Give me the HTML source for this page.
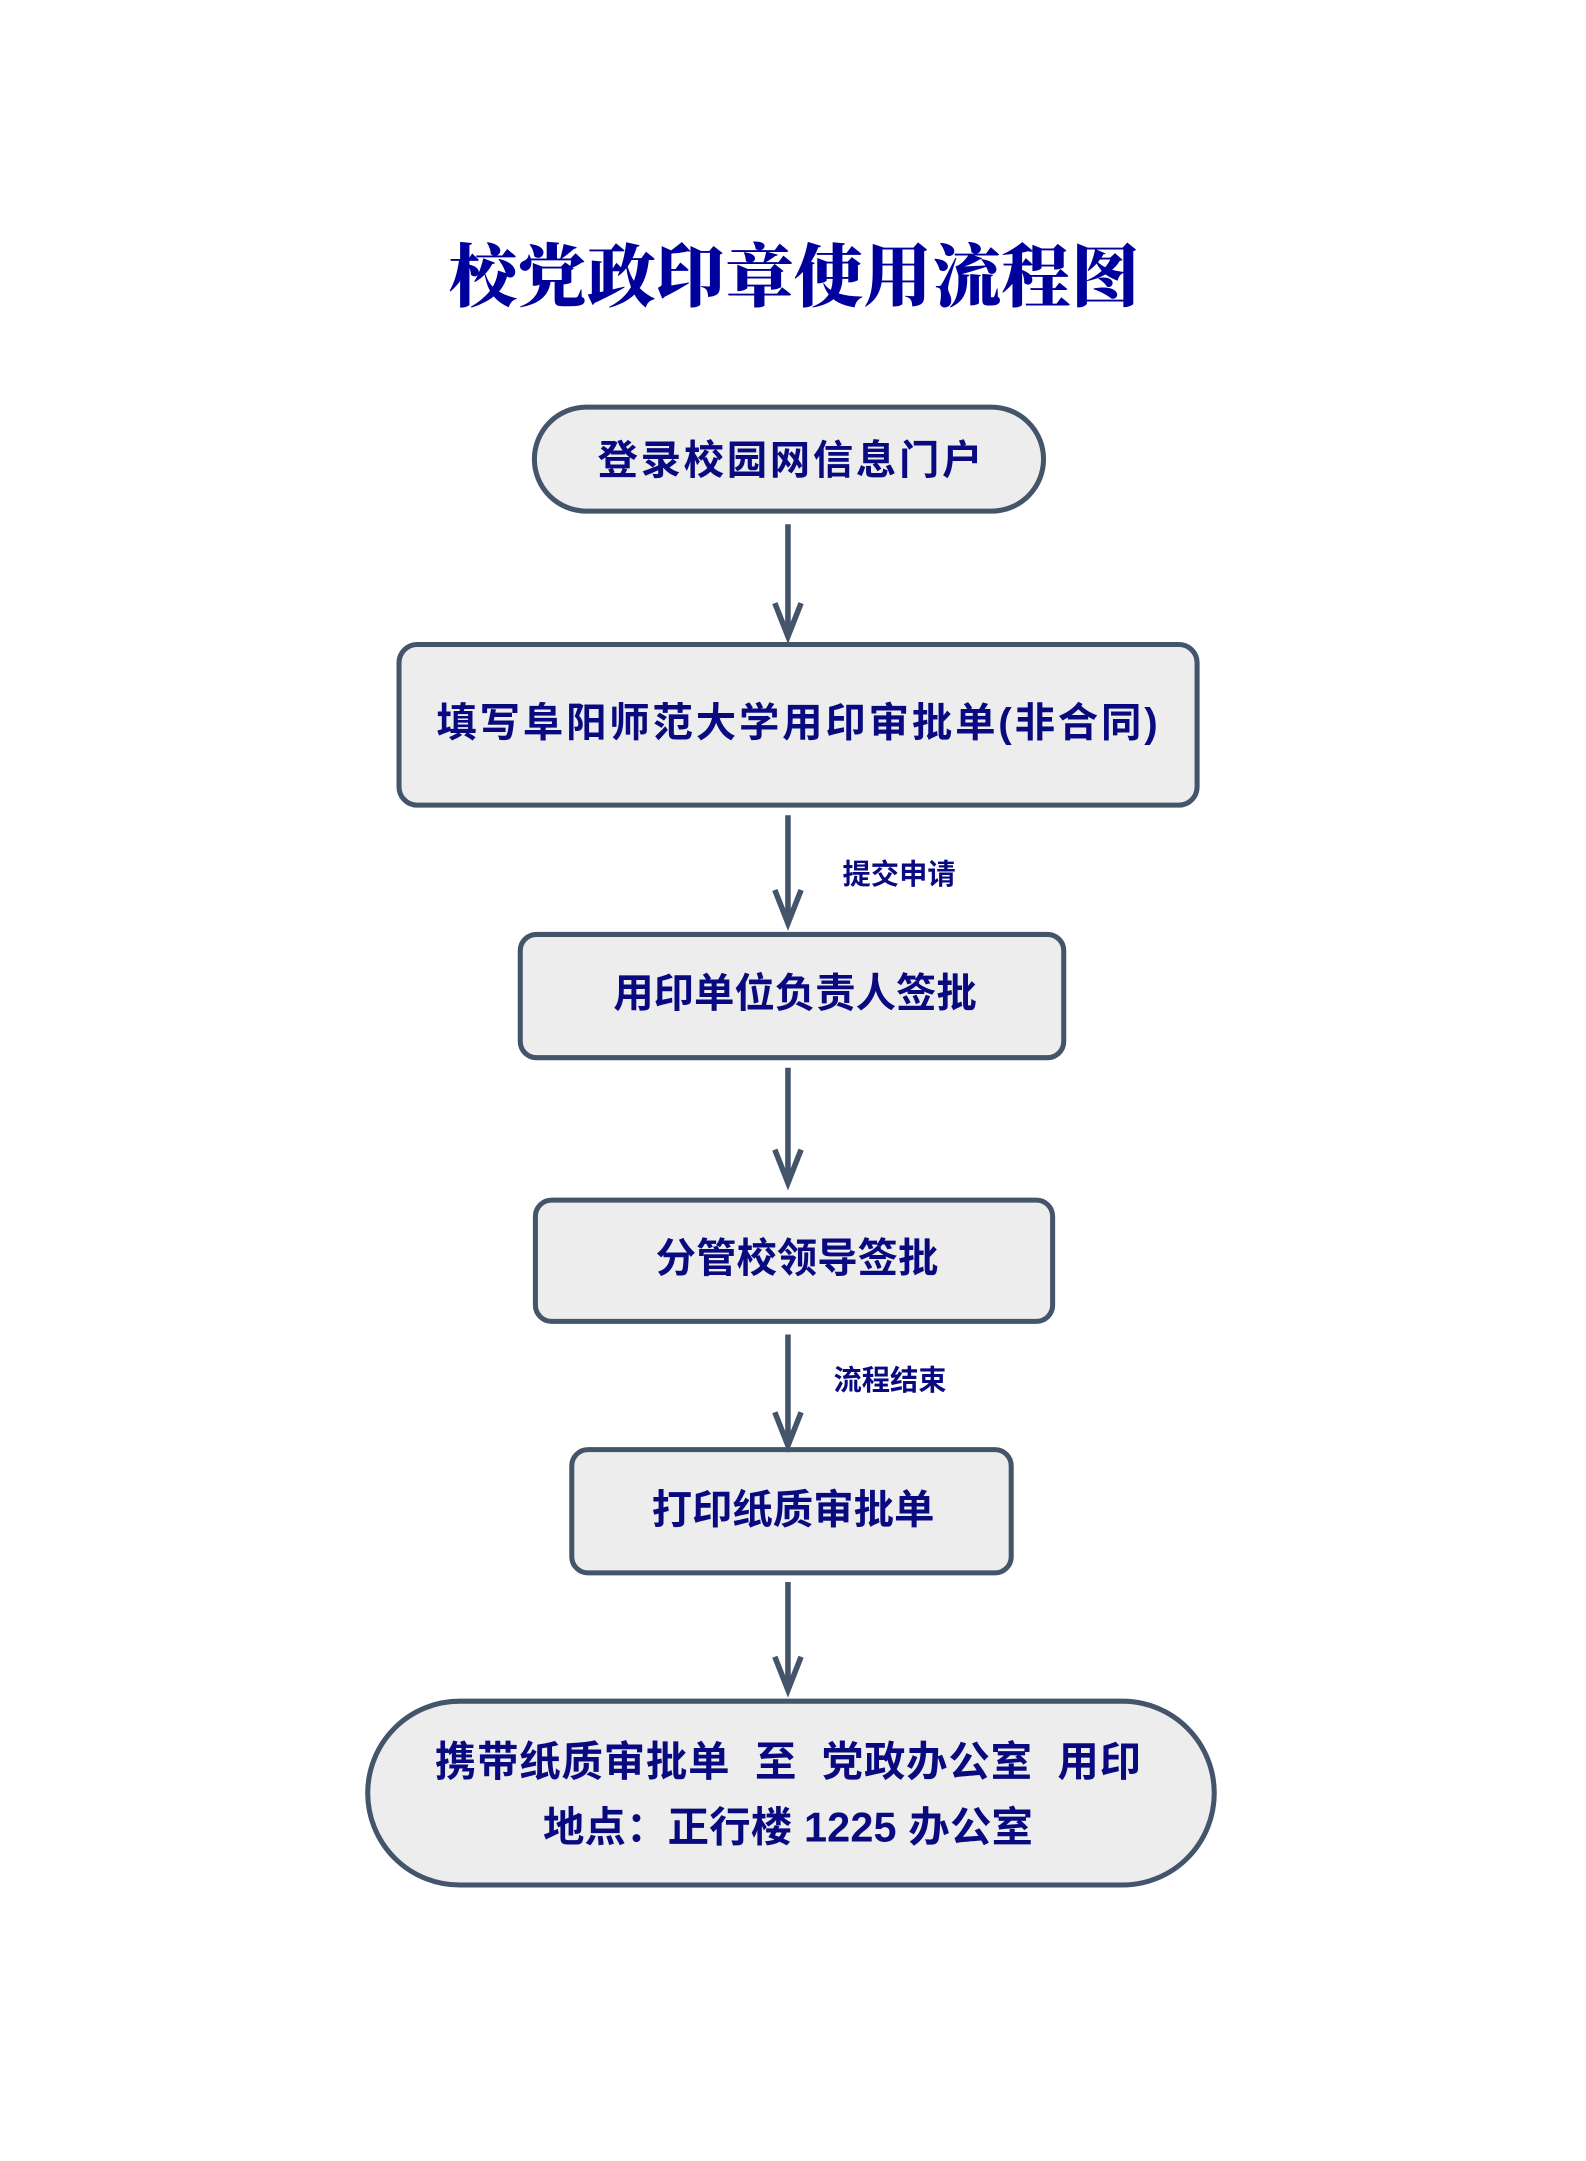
<!DOCTYPE html>
<html><head><meta charset="utf-8"><style>
body{margin:0;background:#fff}
svg{display:block}
.t{font-family:"Liberation Sans","Noto Sans CJK SC",sans-serif;font-weight:bold;fill:#0a0a80;text-anchor:middle}
</style></head><body>
<svg width="1586" height="2161" viewBox="0 0 1586 2161" xmlns="http://www.w3.org/2000/svg">
<g transform="scale(1.0102)">
<text x="786" y="298" style="font-family:'Noto Serif CJK SC',serif;font-weight:900;font-size:68px;fill:#00009c;text-anchor:middle" textLength="684">校党政印章使用流程图</text>
<g fill="#ededed" stroke="#44546a" stroke-width="5">
<rect x="529" y="403" width="504" height="103" rx="51.5"/>
<rect x="395" y="638" width="790" height="159" rx="18"/>
<rect x="515" y="925" width="538" height="122" rx="16"/>
<rect x="530" y="1188" width="512" height="120" rx="16"/>
<rect x="566" y="1435" width="435" height="122" rx="16"/>
<rect x="364" y="1684" width="838" height="182" rx="91"/>
</g>
<g stroke="#44546a" stroke-width="5.5" fill="none" stroke-linejoin="miter" stroke-linecap="butt">
<line x1="780" y1="519" x2="780" y2="628"/><polyline points="767,597 780,630 793,597"/>
<line x1="780" y1="807" x2="780" y2="912"/><polyline points="767,881 780,914 793,881"/>
<line x1="780" y1="1057" x2="780" y2="1169"/><polyline points="767,1138 780,1171 793,1138"/>
<line x1="780" y1="1321" x2="780" y2="1429"/><polyline points="767,1398 780,1431 793,1398"/>
<line x1="780" y1="1566" x2="780" y2="1671"/><polyline points="767,1640 780,1673 793,1640"/>
</g>
<text class="t" x="782" y="469" font-size="40" textLength="381">登录校园网信息门户</text>
<text class="t" x="789" y="729" font-size="40" textLength="714">填写阜阳师范大学用印审批单(非合同)</text>
<text class="t" x="787" y="997" font-size="40">用印单位负责人签批</text>
<text class="t" x="789" y="1259" font-size="40">分管校领导签批</text>
<text class="t" x="785" y="1508" font-size="40">打印纸质审批单</text>
<text class="t" x="780" y="1758" font-size="41" textLength="699" xml:space="preserve">携带纸质审批单  至  党政办公室  用印</text>
<text class="t" x="780" y="1823" font-size="41" textLength="485">地点：正行楼 1225 办公室</text>
<text class="t" x="890" y="875" font-size="28">提交申请</text>
<text class="t" x="881" y="1376" font-size="28">流程结束</text>
</g>
</svg>
</body></html>
